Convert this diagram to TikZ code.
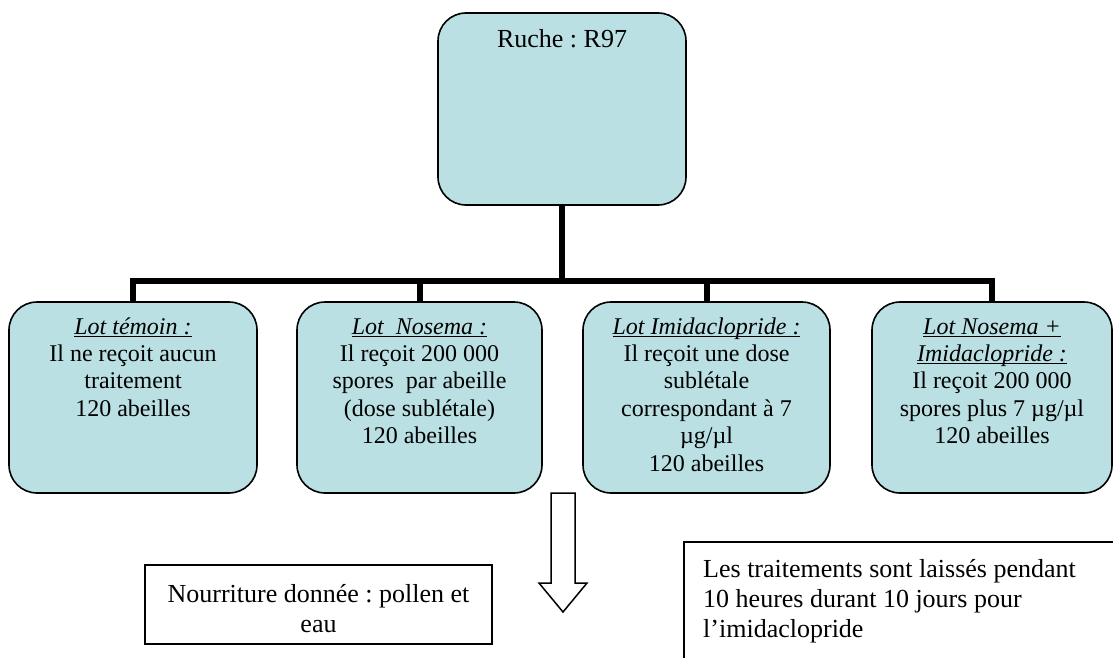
\documentclass[tikz,border=0pt]{standalone}
\usepackage{fontspec}
\setmainfont{Liberation Serif}
\frenchspacing
\newsavebox{\myulbox}
\newcommand{\myul}[1]{\sbox{\myulbox}{#1}\rlap{\rule[-3pt]{\wd\myulbox}{1.2pt}}\usebox{\myulbox}}
\definecolor{boxfill}{RGB}{186,224,227}
\begin{document}
\begin{tikzpicture}[x=1pt,y=-1pt,
  lotbox/.style={draw=black,line width=1.6pt,fill=boxfill,rounded corners=28pt,inner sep=0pt,minimum height=191pt},
  conn/.style={draw=black,line width=6pt,line join=miter},
  boxtext/.style={align=center,font=\fontsize{24}{27.4}\selectfont,anchor=base,inner sep=0pt},
  bigtext/.style={font=\fontsize{26}{30}\selectfont,anchor=base,inner sep=0pt},
  plainbox/.style={draw=black,line width=1.5pt,inner sep=0pt},
  arrowshape/.style={draw=black,line width=1.5pt,fill=white,line join=miter}
]
\useasboundingbox (0,0) rectangle (1113,658);

% top box
\node[lotbox,minimum width=248pt,minimum height=192pt] (ruche) at (562,109) {};
\node[bigtext] (ruchetxt) at (562,48) {Ruche : R97};

% lot boxes
\node[lotbox,minimum width=248pt] (lot1) at (133,397.5) {};
\node[lotbox,minimum width=245pt] (lot2) at (419.5,397.5) {};
\node[lotbox,minimum width=247pt] (lot3) at (706.5,397.5) {};
\node[lotbox,minimum width=240pt] (lot4) at (992,397.5) {};

\coordinate (bar) at (0,281);

% connectors
\draw[conn] (ruche.south) -- (ruche.south |- bar);
\draw[conn] (lot1.north) -- (lot1.north |- bar) -- (lot4.north |- bar) -- (lot4.north);
\draw[conn] (lot2.north) -- (lot2.north |- bar);
\draw[conn] (lot3.north) -- (lot3.north |- bar);

% texts in lot boxes (anchored at the baseline of the last line)
\node[boxtext] (t1) at (133,416.2) {\myul{\textit{Lot témoin :}}\\Il ne reçoit aucun\\traitement\\120 abeilles};
\node[boxtext] (t2) at (419.5,443.6) {\myul{\textit{Lot\ \ Nosema :}}\\Il reçoit 200 000\\spores\ \ par abeille\\(dose sublétale)\\120 abeilles};
\node[boxtext] (t3) at (706.5,471) {\myul{\textit{Lot Imidaclopride :}}\\Il reçoit une dose\\sublétale\\correspondant à 7\\µg/µl\\120 abeilles};
\node[boxtext] (t4) at (992,443.6) {\myul{\textit{Lot Nosema +}}\\\myul{\textit{Imidaclopride :}}\\Il reçoit 200 000\\spores plus 7 µg/µl\\120 abeilles};

% block arrow
\draw[arrowshape] (551,493) -- (575,493) -- (575,583) -- (587,583) -- (563,612) -- (539,583) -- (551,583) -- cycle;

% food box
\node[plainbox,minimum width=347pt,minimum height=79pt] (food) at (318.5,604.5) {};
\node[bigtext,align=center] (foodtxt) at (318.5,632) {Nourriture donnée : pollen et\\eau};

% note box (extends beyond the page)
\node[plainbox,minimum width=442pt,minimum height=129pt,anchor=north west] (note) at (683,541) {};
\node[bigtext,align=left,anchor=base west] (notetxt) at (703,637) {Les traitements sont laissés pendant\\10 heures durant 10 jours pour\\l’imidaclopride};
\end{tikzpicture}
\end{document}
